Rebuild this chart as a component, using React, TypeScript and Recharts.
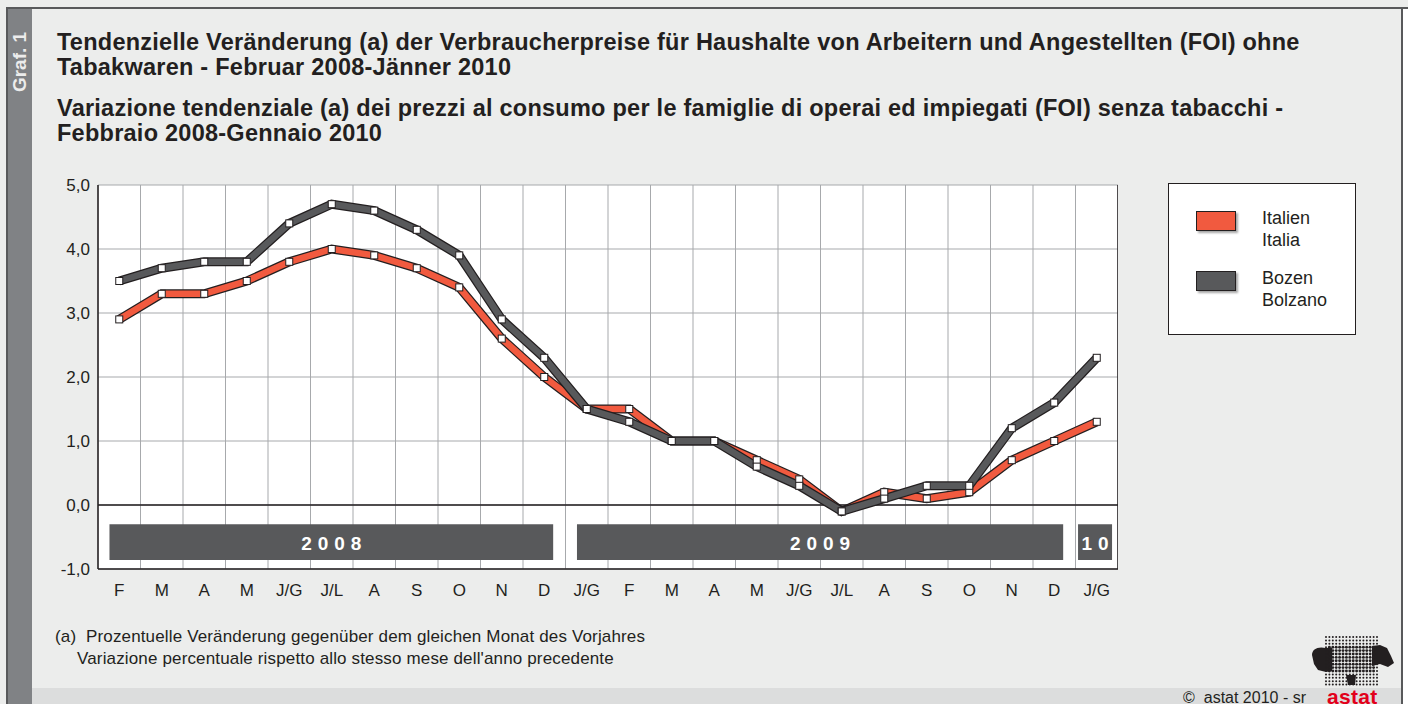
import React from 'react';
import { LineChart, Line, XAxis, YAxis, CartesianGrid, ReferenceLine, ReferenceArea } from 'recharts';

const months = ['F', 'M', 'A', 'M', 'J/G', 'J/L', 'A', 'S', 'O', 'N', 'D', 'J/G', 'F', 'M', 'A', 'M', 'J/G', 'J/L', 'A', 'S', 'O', 'N', 'D', 'J/G'];
const italien = [2.9, 3.3, 3.3, 3.5, 3.8, 4.0, 3.9, 3.7, 3.4, 2.6, 2.0, 1.5, 1.5, 1.0, 1.0, 0.7, 0.4, -0.1, 0.2, 0.1, 0.2, 0.7, 1.0, 1.3];
const bozen = [3.5, 3.7, 3.8, 3.8, 4.4, 4.7, 4.6, 4.3, 3.9, 2.9, 2.3, 1.5, 1.3, 1.0, 1.0, 0.6, 0.3, -0.1, 0.1, 0.3, 0.3, 1.2, 1.6, 2.3];
const yTicks = [-1, 0, 1, 2, 3, 4, 5];
// year bands: label, first month index, last month index
const years = [
  { label: '2008', first: 0, last: 10 },
  { label: '2009', first: 11, last: 22 },
  { label: '10', first: 23, last: 23 },
];

// each month sits in the middle of its slot on a numeric axis 0..24
const data = months.map((m, i) => ({ x: i + 0.5, italien: italien[i], bozen: bozen[i] }));
const labelTicks = months.map((_, i) => i + 0.5);
const bounds = months.map((_, i) => i).concat(months.length);

const RED = '#f15a3f';
const GRAY = '#58595b';
const INK = '#231f20';
const GRID = '#a7a9ac';
const FONT = "'Liberation Sans', Arial, Helvetica, sans-serif";

const SquareDot = (props: any) => {
  const { cx, cy, index, dataKey } = props;
  if (cx == null || cy == null) return null;
  return <rect key={`${dataKey}-${index}`} x={cx - 3.5} y={cy - 3.5} width={7} height={7} fill="#fff" stroke={INK} strokeWidth={1} />;
};

const YearLabel = ({ viewBox, value }: any) => {
  const { x, y, width, height } = viewBox;
  return (
    <text x={x + width / 2 + 3} y={y + height / 2 + 1} textAnchor="middle" dominantBaseline="central"
      fill="#fff" fontSize={19} fontWeight={700} letterSpacing={6} fontFamily={FONT}>
      {value}
    </text>
  );
};

const Logo = () => {
  const dots = [];
  for (let r = 0; r < 15; r++) {
    for (let c = 0; c < 16; c++) {
      const x = 18 + c * 3.4;
      const y = 4 + r * 3.4;
      const inMap = y > 11 && y < 40 && x > 20 && x < 68;
      dots.push(<circle key={`${r}-${c}`} cx={x} cy={y} r={inMap ? 1.45 : 1} fill="#231f20" />);
    }
  }
  return (
    <svg width={90} height={58} style={{ position: 'absolute', left: 1308, top: 633 }}>
      <path d="M4 22 C4 16 10 13 18 15 L24 15 L24 38 L18 39 L10 37 L6 31 Z" fill="#231f20" />
      <path d="M64 13 L72 12 L79 15 L83 23 L86 30 L80 34 L72 31 L64 33 Z" fill="#231f20" />
      <path d="M38 42 L48 42 L47 52 L40 52 Z" fill="#231f20" />
      {dots}
    </svg>
  );
};

const series = [
  { key: 'italien', color: RED, de: 'Italien', it: 'Italia' },
  { key: 'bozen', color: GRAY, de: 'Bozen', it: 'Bolzano' },
];

export default function App() {
  return (
    <div style={{ position: 'absolute', left: 0, top: 0, width: 1408, height: 704, background: '#ecedec', overflow: 'hidden', fontFamily: FONT, color: INK }}>
      {/* frame */}
      <div style={{ position: 'absolute', left: 32, top: 688, width: 1370, height: 16, background: '#dcdddd' }} />
      <div style={{ position: 'absolute', left: 1403, top: 9, width: 5, height: 695, background: '#fff' }} />
      <div style={{ position: 'absolute', left: 6, top: 7, width: 1402, height: 2, background: '#58595b' }} />
      <div style={{ position: 'absolute', left: 6, top: 7, width: 2, height: 697, background: '#58595b' }} />
      <div style={{ position: 'absolute', left: 1401, top: 7, width: 2, height: 697, background: '#58595b' }} />
      <div style={{ position: 'absolute', left: 8, top: 9, width: 24, height: 695, background: '#808285' }} />
      <div style={{ position: 'absolute', left: 20, top: 62, transform: 'translate(-50%, -50%) rotate(-90deg)', color: '#ececec', fontWeight: 700, fontSize: 19, whiteSpace: 'nowrap' }}>
        Graf. 1
      </div>

      {/* titles */}
      <div style={{ position: 'absolute', left: 57, top: 30, fontSize: 23.5, fontWeight: 700, lineHeight: '25px', letterSpacing: 0.25, whiteSpace: 'nowrap' }}>
        Tendenzielle Veränderung (a) der Verbraucherpreise für Haushalte von Arbeitern und Angestellten (FOI) ohne<br />
        Tabakwaren - Februar 2008-Jänner 2010
      </div>
      <div style={{ position: 'absolute', left: 57, top: 96, fontSize: 23.5, fontWeight: 700, lineHeight: '25px', letterSpacing: 0.25, whiteSpace: 'nowrap' }}>
        Variazione tendenziale (a) dei prezzi al consumo per le famiglie di operai ed impiegati (FOI) senza tabacchi -<br />
        Febbraio 2008-Gennaio 2010
      </div>

      {/* chart */}
      <div style={{ position: 'absolute', left: 48, top: 175 }}>
        <LineChart width={1070} height={434} data={data} margin={{ top: 10, right: 0, bottom: 0, left: 0 }}>
          <XAxis dataKey="x" type="number" domain={[0, months.length]} ticks={labelTicks} interval={0} allowDataOverflow
            height={40} tickSize={0} tickMargin={15} tickFormatter={(v: number) => months[Math.floor(v)]}
            axisLine={{ stroke: INK, strokeWidth: 1.5 }} tick={{ fill: INK, fontSize: 17, fontFamily: FONT }} />
          <YAxis domain={[-1, 5]} ticks={yTicks} width={50} tickSize={0} tickMargin={8} interval={0}
            tickFormatter={(v: number) => v.toFixed(1).replace('.', ',')}
            axisLine={{ stroke: INK, strokeWidth: 1.5 }} tick={{ fill: INK, fontSize: 17, fontFamily: FONT }} />
          <CartesianGrid stroke={GRID} strokeWidth={1} fill="#fff" verticalValues={bounds} />
          {years.map((y) => {
            const single = y.first === y.last;
            return (
              <ReferenceArea key={y.label} x1={y.first + (single ? 0.06 : 0.27)} x2={y.last + 1 - (single ? 0.14 : 0.29)}
                y1={-0.86} y2={-0.3} fill={GRAY} fillOpacity={1} stroke="none"
                label={(p: any) => <YearLabel {...p} value={y.label} />} />
            );
          })}
          <ReferenceLine y={0} stroke={INK} strokeWidth={1.5} />
          <ReferenceLine x={months.length} stroke={INK} strokeWidth={1.5} />
          {series.map((s) => [
            <Line key={`${s.key}-o`} dataKey={s.key} stroke={INK} strokeWidth={9} dot={false}
              strokeLinejoin="miter" isAnimationActive={false} />,
            <Line key={`${s.key}-f`} dataKey={s.key} stroke={s.color} strokeWidth={6.5} dot={SquareDot}
              strokeLinejoin="miter" isAnimationActive={false} />,
          ])}
        </LineChart>
      </div>

      {/* legend */}
      <div style={{ position: 'absolute', left: 1168, top: 183, width: 186, height: 150, background: '#fff', border: `1px solid ${INK}` }}>
        {series.map((s, k) => (
          <div key={s.key} style={{ position: 'absolute', left: 0, top: 23 + k * 60, width: 186 }}>
            <div style={{ position: 'absolute', left: 27, top: 4, width: 38, height: 18, background: s.color, border: `1px solid ${INK}`, boxShadow: '2px 2px 2px rgba(0,0,0,0.35)' }} />
            <div style={{ position: 'absolute', left: 93, top: 0, fontSize: 18, lineHeight: '22px' }}>
              {s.de}<br />{s.it}
            </div>
          </div>
        ))}
      </div>

      {/* footnote */}
      <div style={{ position: 'absolute', left: 55, top: 626, fontSize: 17, lineHeight: '22px', letterSpacing: 0.15, whiteSpace: 'nowrap' }}>
        (a)&nbsp;&nbsp;Prozentuelle Veränderung gegenüber dem gleichen Monat des Vorjahres
      </div>
      <div style={{ position: 'absolute', left: 77, top: 648, fontSize: 17, lineHeight: '22px', letterSpacing: 0.15, whiteSpace: 'nowrap' }}>
        Variazione percentuale rispetto allo stesso mese dell'anno precedente
      </div>

      {/* source */}
      <Logo />
      <div style={{ position: 'absolute', right: 102, top: 690, fontSize: 16, lineHeight: '16px', whiteSpace: 'nowrap' }}>
        ©&nbsp;&nbsp;astat 2010 - sr
      </div>
      <div style={{ position: 'absolute', left: 1327, top: 686, fontSize: 21, lineHeight: '21px', fontWeight: 700, color: '#e2001a', letterSpacing: 0.3 }}>
        astat
      </div>
    </div>
  );
}
